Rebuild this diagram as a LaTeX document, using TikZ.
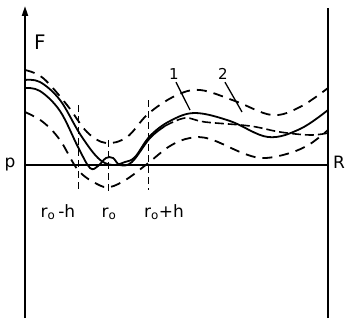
\documentclass[tikz,border=0pt]{standalone}
\usepackage{fontspec}
\setmainfont{DejaVu Sans}
\usetikzlibrary{arrows.meta}
\begin{document}
\begin{tikzpicture}[x=1pt,y=-1pt,
  axisline/.style={line width=1.9pt},
  curvesolid/.style={line width=1.8pt},
  curvedash/.style={line width=1.8pt,dash pattern=on 10pt off 7pt},
  guide/.style={line width=1pt,dash pattern=on 7pt off 4pt},
  lbl/.style={font=\fontsize{17}{17}\selectfont,inner sep=0pt},
  numlbl/.style={font=\fontsize{15}{15}\selectfont,inner sep=0pt},
  leader/.style={line width=1.3pt}]
\useasboundingbox (0,0) rectangle (350,321);
% axes
\coordinate (ytop) at (25,6);
\coordinate (ybot) at (25,318);
\coordinate (rtop) at (328,8);
\coordinate (rbot) at (328,318);
\coordinate (x0) at (25,165);
\coordinate (x1) at (328,165);
\draw[axisline,-{Triangle[length=10pt,width=6pt]}] (ybot) -- (ytop);
\draw[axisline] (rbot) -- (rtop);
\draw[line width=1.3pt] (x0) -- (x1);
% guides
\coordinate (g1t) at (78,105); \coordinate (g1b) at (78,190);
\coordinate (g2t) at (108,140); \coordinate (g2b) at (108,192);
\coordinate (g3t) at (148,100); \coordinate (g3b) at (148,190);
\draw[guide] (g1t) -- (g1b);
\draw[guide] (g2t) -- (g2b);
\draw[guide] (g3t) -- (g3b);
% curves
\draw[curvedash] plot[smooth,tension=0.6] coordinates {(25,70) (43,78) (67,105) (87,132) (106,143) (127,137) (148,114) (175,96) (200,90) (235,101) (272,115) (300,107) (328,88)};
\draw[curvesolid] plot[smooth,tension=0.6] coordinates {(25,80) (40,82) (60,100) (80,134) (98,158) (112,165) (125,162) (135,157) (150,136) (170,121) (195,113) (230,121) (268,137) (300,129) (328,110)};
\draw[curvesolid] plot[smooth,tension=0.6] coordinates {(25,88) (40,91) (60,111) (78,147) (90,168) (98,166) (106,158) (113,158) (120,165) (132,162) (150,138) (165,126)};
\draw[line width=1.6pt,dash pattern=on 9pt off 4pt] plot[smooth,tension=0.6] coordinates {(165,126) (185,118) (205,122) (250,126) (280,132) (310,135) (328,133)};
\draw[curvedash] plot[smooth,tension=0.6] coordinates {(25,112) (43,122) (60,140) (78,170) (97,184) (110,187) (127,179) (147,164) (170,146) (190,138) (210,139) (245,154) (265,158) (290,153) (310,144) (328,130)};
% labels
\node[lbl,font=\fontsize{20}{20}\selectfont,anchor=base] (F) at (40,49) {F};
\node[lbl,anchor=base] (p) at (10,167) {p};
\node[lbl,anchor=base] (R) at (339,168) {R};
\node[lbl,anchor=base] (l1) at (58,217) {r$_{\mathrm{o}}$\,-h};
\node[lbl,anchor=base] (l2) at (109,217) {r$_{\mathrm{o}}$};
\node[lbl,anchor=base] (l3) at (164,217) {r$_{\mathrm{o}}$+h};
\node[numlbl,anchor=base] (n1) at (174,79) {1};
\node[numlbl,anchor=base] (n2) at (223,79) {2};
\coordinate (e1) at (190,110);
\coordinate (e2) at (242,112);
\draw[leader] (n1.south) ++(2,3) -- (e1);
\draw[leader] (n2.south) ++(2,3) -- (e2);
\end{tikzpicture}
\end{document}
